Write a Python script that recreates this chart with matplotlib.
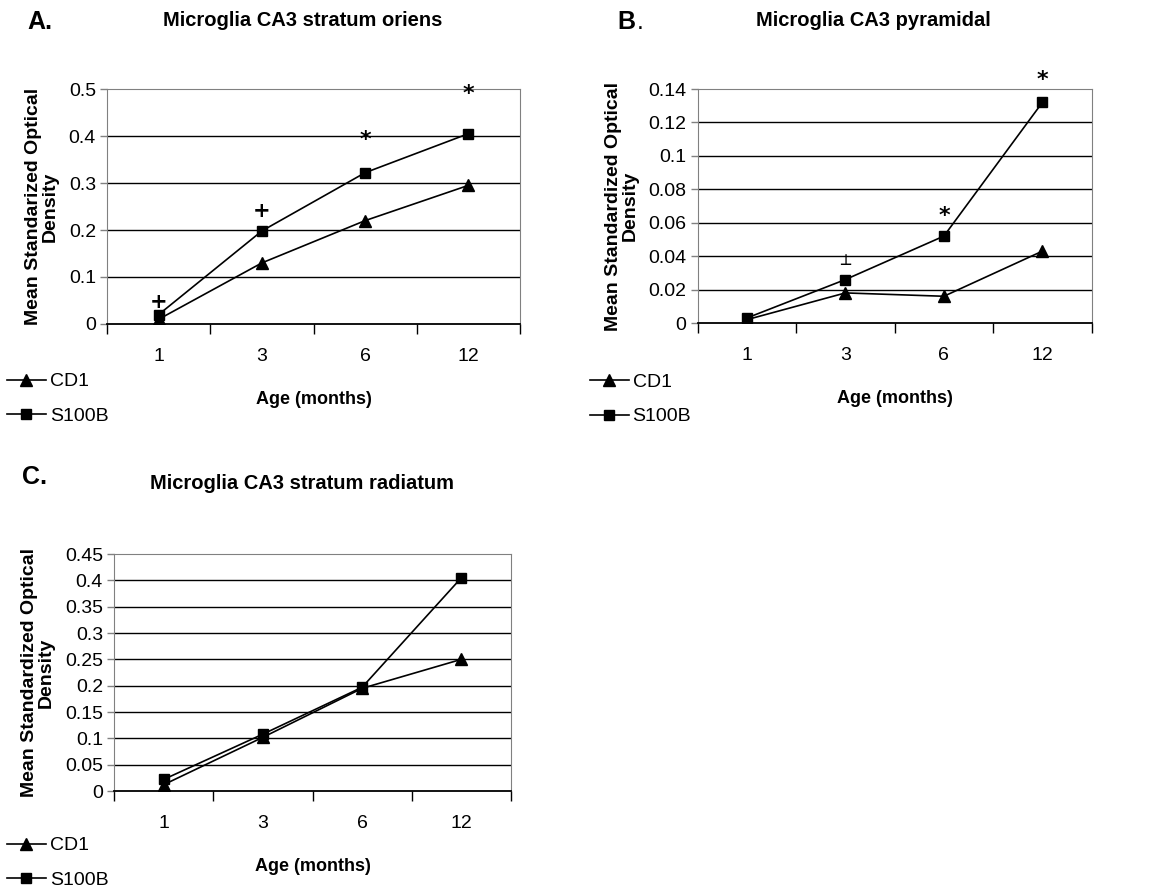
import matplotlib
matplotlib.use("Agg")
import matplotlib.pyplot as plt
import numpy as np

plt.rcParams['font.family'] = ['Liberation Sans', 'DejaVu Sans']

# Category axis (age in months)
ages = ['1', '3', '6', '12']

# Panel A - stratum oriens
cd1_a = [0.010, 0.130, 0.220, 0.295]
s100b_a = [0.020, 0.198, 0.322, 0.405]
marks_a = ['+', '+', '*', '*']
marks_a_y = [0.047, 0.241, 0.391, 0.489]

# Panel B - pyramidal
cd1_b = [0.002, 0.018, 0.016, 0.043]
s100b_b = [0.003, 0.026, 0.052, 0.132]
marks_b = ['', '\u2534', '*', '*']
marks_b_y = [0, 0.0345, 0.0642, 0.1455]

# Panel C - stratum radiatum
cd1_c = [0.012, 0.102, 0.195, 0.250]
s100b_c = [0.022, 0.108, 0.197, 0.405]

fig = plt.figure(figsize=(11.52, 8.94), dpi=100)


def panel(rect, cd1, s100b, ymax, ystep, ylab, legend_xy):
    ax = fig.add_axes(rect)
    x = np.arange(len(ages))
    l1, = ax.plot(x, cd1, color='black', lw=1.2, marker='^', ms=8, label='CD1')
    l2, = ax.plot(x, s100b, color='black', lw=1.2, marker='s', ms=7, label='S100B')
    ax.set_xlim(-0.5, len(ages) - 0.5)
    ax.set_ylim(0, ymax)
    yt = np.arange(0, ymax + ystep / 2, ystep)
    ax.set_yticks(yt)
    labs = [('%.2f' % v).rstrip('0').rstrip('.') for v in yt]
    ax.set_yticklabels(labs, fontsize=14)
    for v in yt[1:-1]:
        ax.axhline(v, color='black', lw=1.0, zorder=0)
    # category boundaries as major ticks, labels centred on minor ticks
    ax.set_xticks(np.arange(-0.5, len(ages), 1.0))
    ax.set_xticklabels([])
    ax.set_xticks(x, minor=True)
    ax.set_xticklabels(ages, minor=True, fontsize=14)
    ax.tick_params(axis='x', which='major', direction='out', length=7, width=1)
    ax.tick_params(axis='x', which='minor', length=0, pad=17)
    ax.tick_params(axis='y', direction='out', length=5, width=1, color='gray', pad=3)
    for s in ['top', 'right', 'left']:
        ax.spines[s].set_color('gray')
    ax.spines['bottom'].set_color('black')
    ax.spines['bottom'].set_linewidth(1.3)
    ax.set_ylabel(ylab, fontsize=14, fontweight='bold', linespacing=1.0, labelpad=7)
    ax.set_xlabel('Age (months)', fontsize=13, fontweight='bold', labelpad=19)
    ax.legend(handles=[l1, l2], loc='upper left', bbox_to_anchor=legend_xy,
              bbox_transform=fig.transFigure, frameon=False, fontsize=14,
              handlelength=2.0, handletextpad=0.2, labelspacing=0.85,
              borderaxespad=0, borderpad=0)
    return ax


axA = panel([0.0929, 0.6376, 0.3585, 0.2628], cd1_a, s100b_a, 0.5, 0.1,
            'Mean Standarized Optical\nDensity', (0.006, 0.583))
axB = panel([0.6056, 0.6387, 0.3420, 0.2617], cd1_b, s100b_b, 0.14, 0.02,
            'Mean Standardized Optical\nDensity', (0.512, 0.582))
axC = panel([0.0990, 0.1152, 0.3446, 0.2651], cd1_c, s100b_c, 0.45, 0.05,
            'Mean Standardized Optical\nDensity', (0.006, 0.064))

for i, (m, y) in enumerate(zip(marks_a, marks_a_y)):
    axA.text(i, y, m, ha='center', va='center', fontsize=16 if m == '*' else 15,
             fontweight='bold', family='DejaVu Sans')
for i, (m, y) in enumerate(zip(marks_b, marks_b_y)):
    if m:
        axB.text(i, y, m, ha='center', va='center', fontsize=16 if m == '*' else 12,
                 fontweight='bold', family='DejaVu Sans')

# titles and panel letters
fig.text(0.263, 0.977, 'Microglia CA3 stratum oriens', ha='center', va='center',
         fontsize=14.5, fontweight='bold')
fig.text(0.758, 0.977, 'Microglia CA3 pyramidal', ha='center', va='center',
         fontsize=14.5, fontweight='bold')
fig.text(0.262, 0.459, 'Microglia CA3 stratum radiatum', ha='center', va='center',
         fontsize=14.5, fontweight='bold')
fig.text(0.024, 0.975, 'A.', ha='left', va='center', fontsize=18, fontweight='bold')
fig.text(0.536, 0.975, 'B', ha='left', va='center', fontsize=18, fontweight='bold')
fig.text(0.553, 0.975, '.', ha='left', va='center', fontsize=18)
fig.text(0.019, 0.467, 'C.', ha='left', va='center', fontsize=18, fontweight='bold')

fig.savefig('out.png', dpi=100)
